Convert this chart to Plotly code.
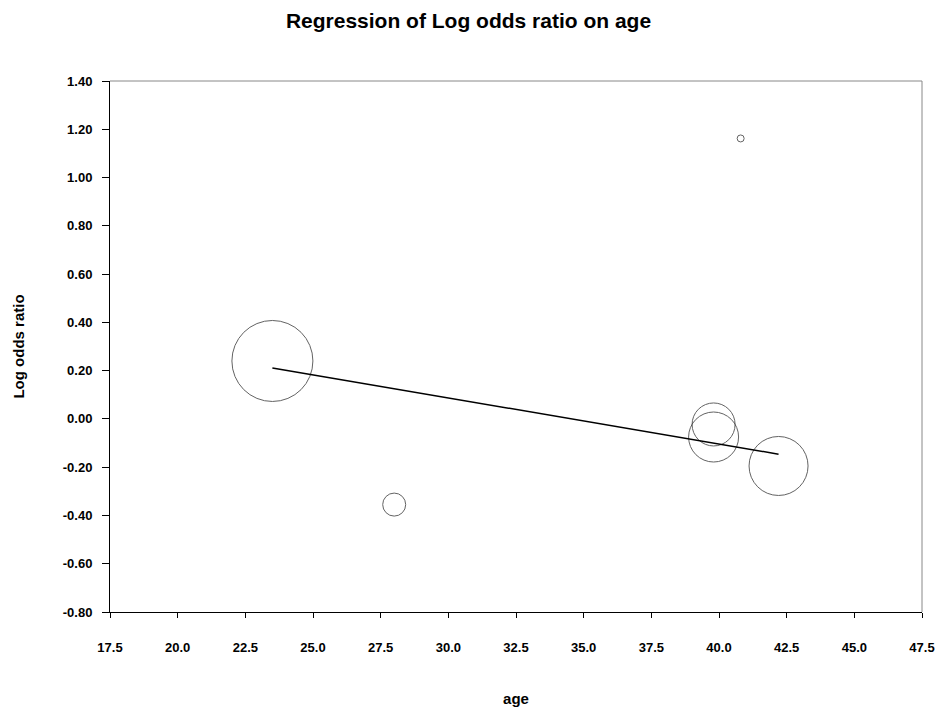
import plotly.graph_objects as go

# Data
age = [23.5, 28.0, 40.8, 39.8, 39.8, 42.2]
log_odds = [0.24, -0.355, 1.162, -0.023, -0.075, -0.195]
weight = [81, 23, 7, 43, 50, 59]  # bubble diameters (study weights)

reg_x = [23.5, 42.2]
reg_y = [0.211, -0.146]

x_ticks = [17.5, 20.0, 22.5, 25.0, 27.5, 30.0, 32.5, 35.0, 37.5, 40.0, 42.5, 45.0, 47.5]
y_ticks = [-0.8, -0.6, -0.4, -0.2, 0.0, 0.2, 0.4, 0.6, 0.8, 1.0, 1.2, 1.4]

FONT = "Liberation Sans, Arial, sans-serif"

fig = go.Figure()
fig.add_trace(go.Scatter(
    x=age, y=log_odds, mode="markers",
    marker=dict(size=weight, sizemode="diameter", color="rgba(0,0,0,0)",
                line=dict(color="#222222", width=1)),
    hoverinfo="x+y", showlegend=False,
))
fig.add_trace(go.Scatter(
    x=reg_x, y=reg_y, mode="lines",
    line=dict(color="black", width=1.5), showlegend=False,
))

fig.update_layout(
    width=937, height=711,
    paper_bgcolor="white", plot_bgcolor="white",
    margin=dict(l=109.5, r=15, t=81, b=99.3, autoexpand=False),
    font=dict(family=FONT, color="black"),
    title=dict(text="<b>Regression of Log odds ratio on age</b>",
               x=0.5, xanchor="center", y=1 - 21 / 711, yanchor="middle",
               font=dict(size=21, family=FONT, color="black")),
    xaxis=dict(
        range=[17.5, 47.5], tickvals=x_ticks,
        ticktext=[f"<b>{v:.1f}</b>" for v in x_ticks],
        showgrid=False, zeroline=False, automargin=False,
        showline=True, linecolor="black", linewidth=1,
        ticks="outside", ticklen=5, tickcolor="black", tickwidth=1,
        tickfont=dict(size=13, family=FONT, color="black"),
        ticklabelstandoff=18,
        title=dict(text="<b>age</b>", font=dict(size=15, family=FONT, color="black"), standoff=39),
    ),
    yaxis=dict(
        range=[-0.8, 1.4], tickvals=y_ticks,
        ticktext=[f"<b>{v:.2f}</b>" for v in y_ticks],
        showgrid=False, zeroline=False, automargin=False,
        showline=True, linecolor="black", linewidth=1,
        ticks="outside", ticklen=7, tickcolor="black", tickwidth=1,
        tickfont=dict(size=13, family=FONT, color="black"),
        ticklabelstandoff=7,
        title=dict(text="<b>Log odds ratio</b>", font=dict(size=15, family=FONT, color="black"), standoff=34),
    ),
    shapes=[
        dict(type="line", xref="paper", yref="paper", x0=0, x1=1, y0=1, y1=1,
             line=dict(color="#888888", width=1)),
        dict(type="line", xref="paper", yref="paper", x0=1, x1=1, y0=0, y1=1,
             line=dict(color="#888888", width=1)),
    ],
)

fig.write_html(
    "out.html",
    config={"displayModeBar": False},
    post_script="document.body.style.margin='0';document.body.style.padding='0';",
)
